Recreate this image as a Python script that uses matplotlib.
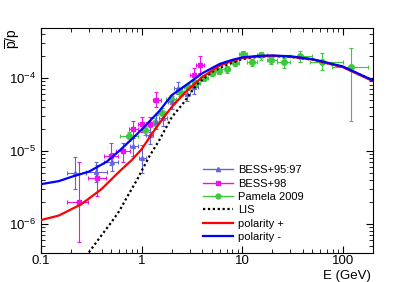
import matplotlib
matplotlib.use('Agg')
import matplotlib.pyplot as plt
from matplotlib.lines import Line2D
import numpy as np

plt.rcParams['font.family'] = ['Liberation Sans', 'DejaVu Sans']
plt.rcParams['mathtext.fontset'] = 'custom'
plt.rcParams['mathtext.rm'] = 'Liberation Sans'
plt.rcParams['mathtext.it'] = 'Liberation Sans'

# model curves
E_minus = [0.1, 0.15, 0.2, 0.3, 0.45, 0.6, 0.8, 1.0, 1.5, 2.0, 3.0, 4.0, 6.0, 8.0, 10, 15, 20, 30, 50, 100, 200]
y_minus = [3.5e-6, 3.85e-6, 4.4e-6, 5.2e-6, 7.1e-6, 1.0e-5, 1.45e-5, 1.95e-5, 3.5e-5, 5.8e-5, 8.6e-5,
           1.15e-4, 1.55e-4, 1.76e-4, 1.9e-4, 2.0e-4, 2.02e-4, 1.97e-4, 1.8e-4, 1.43e-4, 9.2e-5]

E_plus = [0.1, 0.15, 0.25, 0.4, 0.6, 0.8, 1.0, 1.3, 1.7, 2.0, 2.8, 4.0, 6.0, 8.0, 10, 15, 20, 30, 50, 100, 200]
y_plus = [1.13e-6, 1.3e-6, 1.85e-6, 3.0e-6, 5.2e-6, 7.5e-6, 1.05e-5, 1.8e-5, 3.0e-5, 4.0e-5, 6.6e-5,
          1.02e-4, 1.47e-4, 1.7e-4, 1.86e-4, 1.97e-4, 2.0e-4, 1.95e-4, 1.78e-4, 1.4e-4, 9.0e-5]

E_lis = [0.28, 0.4, 0.5, 0.6, 0.75, 0.9, 1.0, 1.2, 1.5, 2.0, 2.6, 3.5, 5.0, 7.0, 10, 15, 20, 30, 50, 100, 200]
y_lis = [3.6e-7, 7.0e-7, 1.05e-6, 1.5e-6, 2.6e-6, 4.0e-6, 5.3e-6, 8.5e-6, 1.4e-5, 2.9e-5, 4.5e-5,
         8.0e-5, 1.2e-4, 1.5e-4, 1.8e-4, 1.95e-4, 1.98e-4, 1.93e-4, 1.77e-4, 1.41e-4, 9.2e-5]

# BESS+95:97
b97_E = [0.22, 0.35, 0.51, 0.83, 1.02, 1.2, 1.4, 1.65, 2.0, 2.3, 2.8, 3.3]
b97_y = [4.9e-6, 5.1e-6, 7.0e-6, 1.15e-5, 7.9e-6, 1.66e-5, 2.5e-5, 2.8e-5, 4.6e-5, 7.2e-5, 6.0e-5, 7.5e-5]
b97_ylo = [3.0e-6, 3.8e-6, 5.3e-6, 8.5e-6, 5.0e-6, 1.25e-5, 2.0e-5, 2.2e-5, 3.7e-5, 6.0e-5, 4.8e-5, 6.0e-5]
b97_yhi = [8.2e-6, 7.1e-6, 9.2e-6, 1.5e-5, 1.2e-5, 2.1e-5, 3.1e-5, 3.5e-5, 5.6e-5, 8.7e-5, 7.6e-5, 9.4e-5]
b97_Elo = [0.18, 0.28, 0.42, 0.76, 0.94, 1.1, 1.3, 1.5, 1.85, 2.1, 2.6, 3.0]
b97_Ehi = [0.28, 0.45, 0.58, 0.92, 1.1, 1.3, 1.5, 1.8, 2.15, 2.5, 3.0, 3.6]

# BESS+98
b98_E = [0.24, 0.36, 0.50, 0.66, 0.83, 1.0, 1.22, 1.4, 3.3, 3.8]
b98_y = [2.0e-6, 4.2e-6, 8.6e-6, 9.8e-6, 2.0e-5, 2.3e-5, 2.3e-5, 5.0e-5, 1.1e-4, 1.5e-4]
b98_ylo = [5.7e-7, 2.4e-6, 6.4e-6, 7.0e-6, 1.6e-5, 1.8e-5, 1.8e-5, 4.0e-5, 9.0e-5, 1.16e-4]
b98_yhi = [7.1e-6, 6.5e-6, 1.3e-5, 1.3e-5, 2.6e-5, 2.9e-5, 2.9e-5, 6.3e-5, 1.35e-4, 2.0e-4]
b98_Elo = [0.18, 0.29, 0.42, 0.56, 0.75, 0.92, 1.1, 1.3, 3.0, 3.5]
b98_Ehi = [0.29, 0.44, 0.58, 0.76, 0.92, 1.1, 1.3, 1.55, 3.6, 4.2]

# Pamela 2009
pam_E = [0.75, 1.08, 1.35, 1.6, 1.95, 2.4, 2.9, 3.5, 4.2, 5.0, 5.9, 7.0, 8.4, 10.3, 12.4, 15.5, 19.5, 26, 38, 62, 122]
pam_y = [1.58e-5, 1.9e-5, 2.4e-5, 3.3e-5, 5.2e-5, 6.3e-5, 7.5e-5, 8.5e-5, 1.0e-4, 1.16e-4, 1.25e-4,
         1.31e-4, 1.59e-4, 2.13e-4, 1.62e-4, 2.02e-4, 1.76e-4, 1.62e-4, 1.96e-4, 1.64e-4, 1.40e-4]
pam_ylo = [1.35e-5, 1.65e-5, 2.05e-5, 2.85e-5, 4.6e-5, 5.6e-5, 6.7e-5, 7.6e-5, 9.0e-5, 1.05e-4, 1.13e-4,
           1.18e-4, 1.43e-4, 1.9e-4, 1.43e-4, 1.77e-4, 1.53e-4, 1.38e-4, 1.62e-4, 1.26e-4, 2.6e-5]
pam_yhi = [1.82e-5, 2.2e-5, 2.8e-5, 3.8e-5, 5.9e-5, 7.0e-5, 8.3e-5, 9.4e-5, 1.1e-4, 1.28e-4, 1.38e-4,
           1.45e-4, 1.76e-4, 2.36e-4, 1.82e-4, 2.27e-4, 2.0e-4, 1.86e-4, 2.32e-4, 2.2e-4, 2.55e-4]
pam_Elo = [0.61, 0.92, 1.2, 1.45, 1.75, 2.2, 2.65, 3.2, 3.85, 4.6, 5.4, 6.2, 7.6, 9.3, 11.2, 14, 17.5, 22, 30, 47, 78]
pam_Ehi = [0.92, 1.2, 1.45, 1.75, 2.2, 2.65, 3.2, 3.85, 4.6, 5.4, 6.2, 7.6, 9.3, 11.2, 14, 17.5, 22, 30, 50, 101, 178]

c97 = '#6464dc'
c98 = '#ee11ee'
cpam = '#3ec83e'

fig = plt.figure(figsize=(4.15, 2.82), dpi=100)
ax = fig.add_axes([41/415, 1-253/282, 332/415, 225/282])


def errbars(E, y, ylo, yhi, Elo, Ehi, color, marker, ms):
    E = np.array(E); y = np.array(y)
    yerr = [y - np.array(ylo), np.array(yhi) - y]
    xerr = [E - np.array(Elo), np.array(Ehi) - E]
    ax.errorbar(E, y, yerr=yerr, xerr=xerr, fmt=marker, color=color, ms=ms,
                elinewidth=0.8, capsize=1.5, capthick=0.8, zorder=3)


errbars(pam_E, pam_y, pam_ylo, pam_yhi, pam_Elo, pam_Ehi, cpam, 'o', 4)
errbars(b98_E, b98_y, b98_ylo, b98_yhi, b98_Elo, b98_Ehi, c98, 's', 2.8)
errbars(b97_E, b97_y, b97_ylo, b97_yhi, b97_Elo, b97_Ehi, c97, '^', 2.8)

ax.plot(E_lis, y_lis, color='black', ls=(0, (1, 1.2)), lw=1.6, zorder=4)
ax.plot(E_plus, y_plus, color='#ff0000', lw=1.6, zorder=5)
ax.plot(E_minus, y_minus, color='#0000ff', lw=1.6, zorder=6)

ax.set_xscale('log')
ax.set_yscale('log')
ax.set_xlim(0.1, 200)
ax.set_ylim(4e-7, 4.8e-4)
ax.tick_params(which='both', direction='in', top=True, right=True, labelsize=9.5)
ax.tick_params(which='major', length=5)
ax.tick_params(which='minor', length=3)
ax.tick_params(axis='x', pad=1.5)
ax.set_xticks([0.1, 1, 10, 100])
ax.set_xticklabels(['0.1', '1', '10', '100'])

fig.text(13/415, 1-28/282, r'$\overline{\mathrm{p}}/\mathrm{p}$', rotation=90,
         ha='center', va='top', fontsize=10)
fig.text(371/415, 0.5/282, 'E (GeV)', ha='right', va='bottom', fontsize=9.5)

handles = [
    Line2D([], [], color=c97, marker='^', ms=3, lw=1),
    Line2D([], [], color=c98, marker='s', ms=3, lw=1),
    Line2D([], [], color=cpam, marker='o', ms=3.5, lw=1),
    Line2D([], [], color='black', ls=(0, (1, 1.2)), lw=1.6),
    Line2D([], [], color='#ff0000', lw=1.6),
    Line2D([], [], color='#0000ff', lw=1.6),
]
labels = ['BESS+95:97', 'BESS+98', 'Pamela 2009', 'LIS', 'polarity +', 'polarity -']
ax.legend(handles, labels, loc='lower left', bbox_to_anchor=(0.46, 0.01), frameon=False,
          fontsize=8, handlelength=2.7, handletextpad=0.5, labelspacing=0.3, borderpad=0.3)

fig.savefig('out.png', dpi=100)
